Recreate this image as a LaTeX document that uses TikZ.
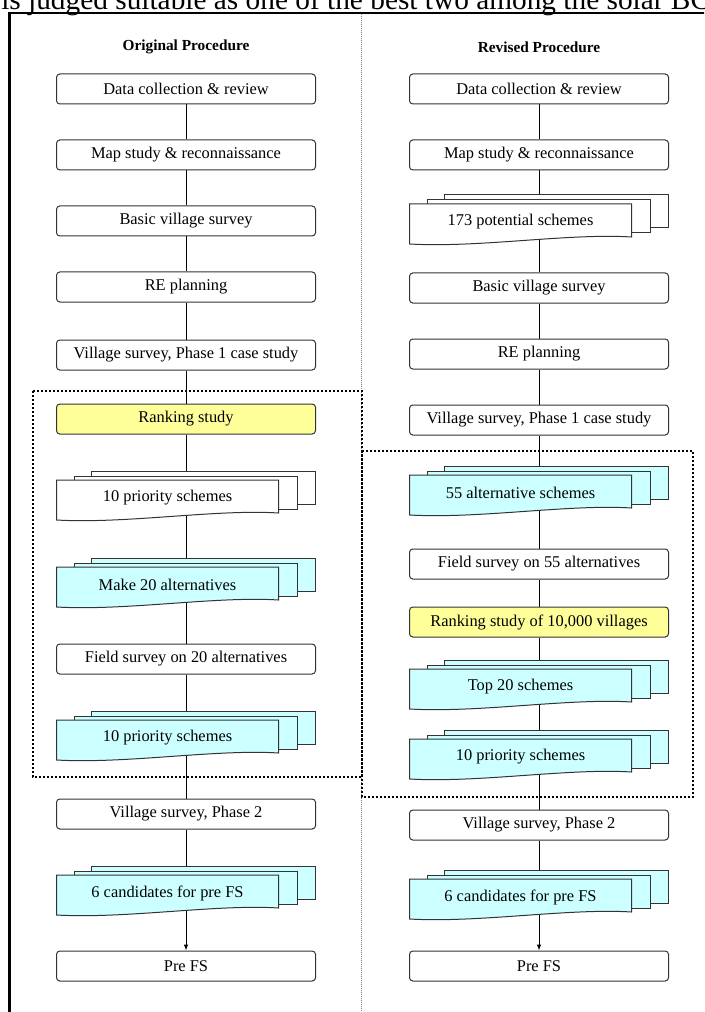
\documentclass[tikz,border=0pt]{standalone}
\usepackage{fontspec}
\setmainfont{Liberation Serif}
\usetikzlibrary{arrows.meta,backgrounds}
\definecolor{cy}{HTML}{CCFFFF}
\definecolor{yl}{HTML}{FFFF99}
\definecolor{bd}{HTML}{333333}
\newcommand{\bxfont}{\fontsize{12.3}{14}\selectfont}
\newcommand{\mdoc}[5]{%
 \begin{scope}[shift={(#2,#3)}]
  \draw[docline,fill=#4] (-94.5,-27) rectangle (129.5,6);
  \draw[docline,fill=#4] (-112,-22) rectangle (111,11);
  \draw[docline,fill=#4] (-129.5,-18) -- (92.5,-18) -- (92.5,15) .. controls (30,11) and (-60,26) .. (-129.5,22) -- cycle;
  \node[inner sep=0pt, font=\bxfont] (#1t) at (-18.5,0) {#5};
  \node[inner sep=0pt, minimum width=194.25pt, minimum height=32.25pt] (#1) at (0,-5.5) {};
 \end{scope}}
\tikzset{
  box/.style={draw=bd, line width=0.75pt, rounded corners=2.5pt, fill=white,
    minimum width=194.25pt, minimum height=22.5pt, inner sep=0pt, font=\bxfont},
  ybox/.style={box, fill=yl},
  docline/.style={draw=bd, line width=0.75pt},
  conn/.style={draw=black, line width=0.75pt},
  dotbox/.style={draw=black, line width=1.5pt, dash pattern=on 1.5pt off 1.5pt},
  title/.style={font=\bfseries\fontsize{11.5}{13}\selectfont, inner sep=0pt}
}
\begin{document}
\begin{tikzpicture}[x=0.75pt,y=-0.75pt]
\useasboundingbox (0,0) rectangle (704,1012);
\clip (0,0) rectangle (704,1012);
% header text (cut off at the top, as in the reference)
\node[anchor=base west, inner sep=0pt, font=\fontsize{22}{26}\selectfont] (hdr) at (1,10) {is judged suitable as one of the best two among the solar BC};
% frame and divider
\draw[line width=1.9pt] (9.5,1030) -- (9.5,13) -- (730,13);
\draw[gray, line width=0.5pt, dash pattern=on 0.75pt off 0.75pt] (361,14) -- (361,1012);
% titles
\node[title] (t1) at (186,47) {Original Procedure};
\node[title] (t2) at (539,47) {Revised Procedure};
% left column
\node[box] (L1) at (186,89) {Data collection \& review};
\node[box] (L2) at (186,155) {Map study \& reconnaissance};
\node[box] (L3) at (186,221) {Basic village survey};
\node[box] (L4) at (186,287) {RE planning};
\node[box] (L5) at (186,355) {Village survey, Phase 1 case study};
\node[ybox] (L6) at (186,419) {Ranking study};
\mdoc{L7}{186}{498}{white}{10 priority schemes}
\mdoc{L8}{186}{585}{cy}{Make 20 alternatives}
\node[box] (L9) at (186,659) {Field survey on 20 alternatives};
\mdoc{L10}{186}{738}{cy}{10 priority schemes}
\node[box] (L11) at (186,814) {Village survey, Phase 2};
\mdoc{L12}{186}{893}{cy}{6 candidates for pre FS}
\node[box] (L13) at (186,966) {Pre FS};
% right column
\node[box] (R1) at (539,89) {Data collection \& review};
\node[box] (R2) at (539,155) {Map study \& reconnaissance};
\mdoc{R3}{539}{222}{white}{173 potential schemes}
\node[box] (R4) at (539,288) {Basic village survey};
\node[box] (R5) at (539,354) {RE planning};
\node[box] (R6) at (539,420) {Village survey, Phase 1 case study};
\mdoc{R7}{539}{493}{cy}{55 alternative schemes}
\node[box] (R8) at (539,564) {Field survey on 55 alternatives};
\node[ybox] (R9) at (539,622) {Ranking study of 10,000 villages};
\mdoc{R10}{539}{687}{cy}{Top 20 schemes}
\mdoc{R11}{539}{757}{cy}{10 priority schemes}
\node[box] (R12) at (539,825) {Village survey, Phase 2};
\mdoc{R13}{539}{897}{cy}{6 candidates for pre FS}
\node[box] (R14) at (539,966) {Pre FS};
% connectors
\begin{pgfonlayer}{background}
\fill[white] (0,0) rectangle (704,1012);
\foreach \a/\b in {L1/L2,L2/L3,L3/L4,L4/L5,L5/L6,L6/L7,L7/L8,L8/L9,L9/L10,L10/L11,L11/L12,
  R1/R2,R2/R3,R3/R4,R4/R5,R5/R6,R6/R7,R7/R8,R8/R9,R9/R10,R10/R11,R11/R12,R12/R13}
  \draw[conn] (\a.south) -- (\b.north);
\draw[conn,-{Latex[length=4.5pt,width=3.5pt]}] (L12.south) -- (L13.north);
\draw[conn,-{Latex[length=4.5pt,width=3.5pt]}] (R13.south) -- (R14.north);
\end{pgfonlayer}
% dotted groups
\draw[dotbox] (33,391) rectangle (362,777);
\draw[dotbox] (362,451) rectangle (693,797);
\end{tikzpicture}
\end{document}
